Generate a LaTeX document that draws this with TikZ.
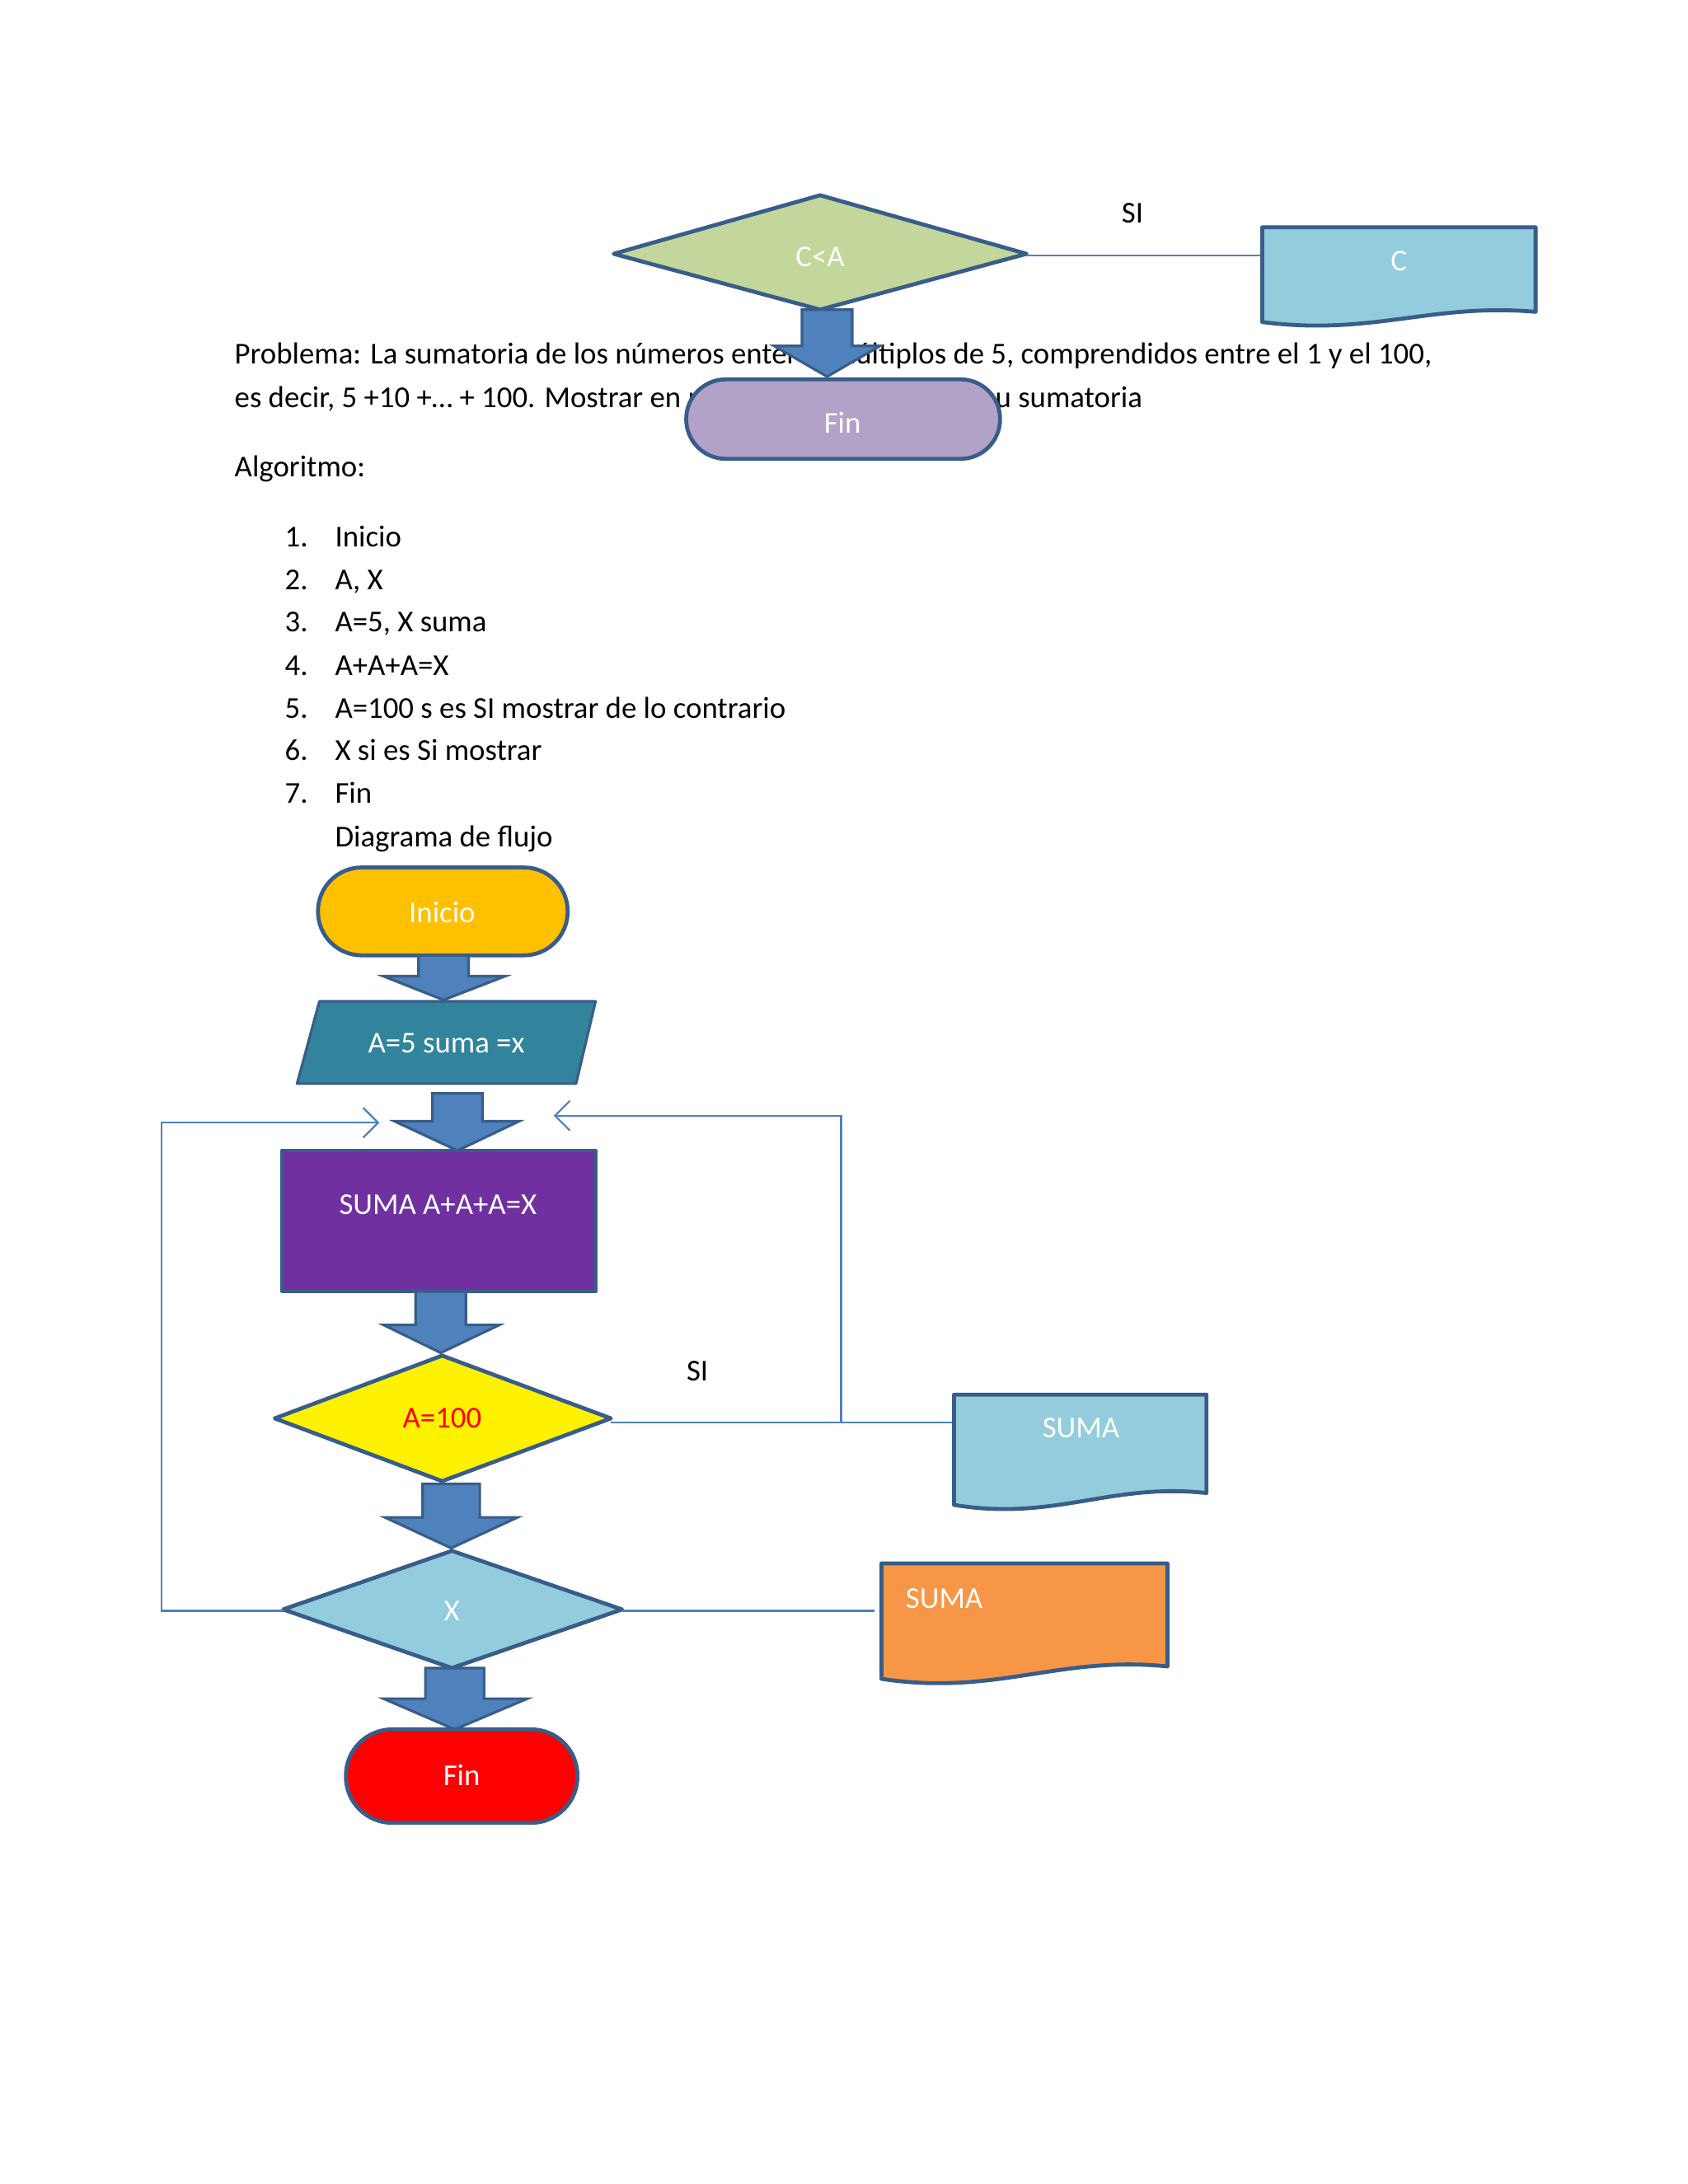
\documentclass[tikz,border=0pt]{standalone}
\usepackage{fontspec}
\setmainfont{Carlito}
\usetikzlibrary{arrows.meta}
\definecolor{bord}{HTML}{385D8A}
\definecolor{lnk}{HTML}{4F81BD}
\definecolor{barrow}{HTML}{4F81BD}
\definecolor{green1}{HTML}{C3D69B}
\definecolor{lblue}{HTML}{93CDDD}
\definecolor{lav}{HTML}{B3A2C7}
\definecolor{gold}{HTML}{FFC000}
\definecolor{teal1}{HTML}{31849B}
\definecolor{purp}{HTML}{7030A0}
\definecolor{orng}{HTML}{F79646}
\tikzset{
 shp/.style={draw=bord,line width=2.4pt,line join=round},
 wtxt/.style={text=white,font=\fontsize{18.4}{22}\selectfont},
 btxt/.style={text=black,font=\fontsize{18.4}{22}\selectfont,inner sep=0pt},
 ln/.style={draw=lnk,line width=1.1pt},
 barr/.style={fill=barrow,draw=bord,line width=1.6pt,line join=miter},
}
\newcommand\myblk[7]{\path[barr] (#1,#3)--(#2,#3)--(#2,#4)--(#6,#4)--({(#1+#2)/2},#7)--(#5,#4)--(#1,#4)--cycle;}
\newcommand\mydoc[5]{\path[shp,fill=#5] (#1,#2)--(#3,#2)--(#3,{#2+0.83*(#4-#2)}) .. controls ({#1+0.62*(#3-#1)},{#2+0.74*(#4-#2)}) and ({#1+0.4*(#3-#1)},{#2+1.07*(#4-#2)}) .. (#1,{#2+0.93*(#4-#2)})--cycle;}
\begin{document}
\begin{tikzpicture}[x=0.846pt,y=-0.846pt]
\useasboundingbox[fill=white] (0,0) rectangle (1210,1566);
\node[btxt,anchor=base west] (t1) at (168,261) {Problema: La sumatoria de los números enteros múltiplos de 5, comprendidos entre el 1 y el 100,};
\node[btxt,anchor=base west] (t2) at (168,292) {es decir, 5 +10 +… + 100. Mostrar en pantalla el resultado de su sumatoria};
\node[btxt,anchor=base west] (t3) at (168,342) {Algoritmo:};
\foreach \n/\t/\y in {1/Inicio/392,2/{A, X}/423,3/{A=5, X suma}/453,4/A+A+A=X/484,5/A=100 s es SI mostrar de lo contrario/515,6/X si es Si mostrar/545,7/Fin/576}{
 \node[btxt,anchor=base east] (n\n) at (221,\y) {\n.};
 \node[btxt,anchor=base west] (i\n) at (240,\y) {\t};
}
\node[btxt,anchor=base west] (t4) at (240,607) {Diagrama de flujo};
% top part
\coordinate (sc) at (905,183);
\path[shp,fill=green1] (440,182)--(588,140)--(736,182)--(588,222)--cycle;
\node[wtxt] (ca) at (588,184) {C<A};
\draw[ln] (736,183) -- (sc);
\node[btxt] (si1) at (812,153) {SI};
\mydoc{905}{163}{1101}{236}{lblue}
\node[wtxt] (cdoc) at (1003,187) {C};
\myblk{575}{611}{222}{248}{555}{631}{270}
\path[shp,fill=lav,rounded corners=24pt] (492,272) rectangle (717,329);
\node[wtxt] (fin1) at (604,303) {Fin};
% lower flowchart
\path[shp,fill=gold,rounded corners=26.5pt] (228,622) rectangle (407,685);
\node[wtxt] (ini) at (317,654) {Inicio};
\myblk{300}{336}{685}{700}{275}{362}{717}
\path[shp,line width=1.6pt,fill=teal1] (229,718)--(427,718)--(413,777)--(213,777)--cycle;
\node[wtxt] (par) at (320,748) {A=5 suma =x};
\myblk{310}{346}{784}{804}{283}{372}{825}
\path[shp,line width=2pt,fill=purp] (202,825) rectangle (427,926);
\node[wtxt] (sum) at (314,864) {SUMA A+A+A=X};
\myblk{298}{334}{926}{950}{275}{358}{970}
\path[shp,fill=yellow] (197,1017)--(317,972)--(438,1017)--(317,1062)--cycle;
\node[wtxt,text=red] (a100) at (317,1017) {A=100};
\coordinate (d1) at (684,1020);
\coordinate (j1) at (603,1020);
\coordinate (j2) at (603,800);
\coordinate (e1) at (397,800);
\draw[ln] (438,1020) -- (d1);
\draw[ln,-{Straight Barb[length=9pt,width=18pt,line width=1.1pt]}] (j1) -- (j2) -- (e1);
\node[btxt] (si2) at (500,983) {SI};
\mydoc{684}{1000}{865}{1085}{lblue}
\node[wtxt] (sdoc) at (775,1024) {SUMA};
\myblk{303}{344}{1064}{1088}{276}{371}{1110}
\path[shp,fill=lblue] (203,1154)--(324,1112)--(446,1154)--(324,1196)--cycle;
\node[wtxt] (xd) at (324,1155) {X};
\coordinate (d2) at (627,1155);
\coordinate (k1) at (116,1155);
\coordinate (k2) at (116,805);
\coordinate (e2) at (272,805);
\draw[ln] (446,1155) -- (d2);
\draw[ln,-{Straight Barb[length=9pt,width=18pt,line width=1.1pt]}] (203,1155) -- (k1) -- (k2) -- (e2);
\mydoc{632}{1121}{837}{1210}{orng}
\node[wtxt] (odoc) at (677,1146) {SUMA};
\myblk{305}{347}{1196}{1218}{275}{378}{1240}
\path[shp,fill=red,rounded corners=28pt] (248,1240) rectangle (414,1307);
\node[wtxt] (fin2) at (331,1273) {Fin};
\end{tikzpicture}
\end{document}
